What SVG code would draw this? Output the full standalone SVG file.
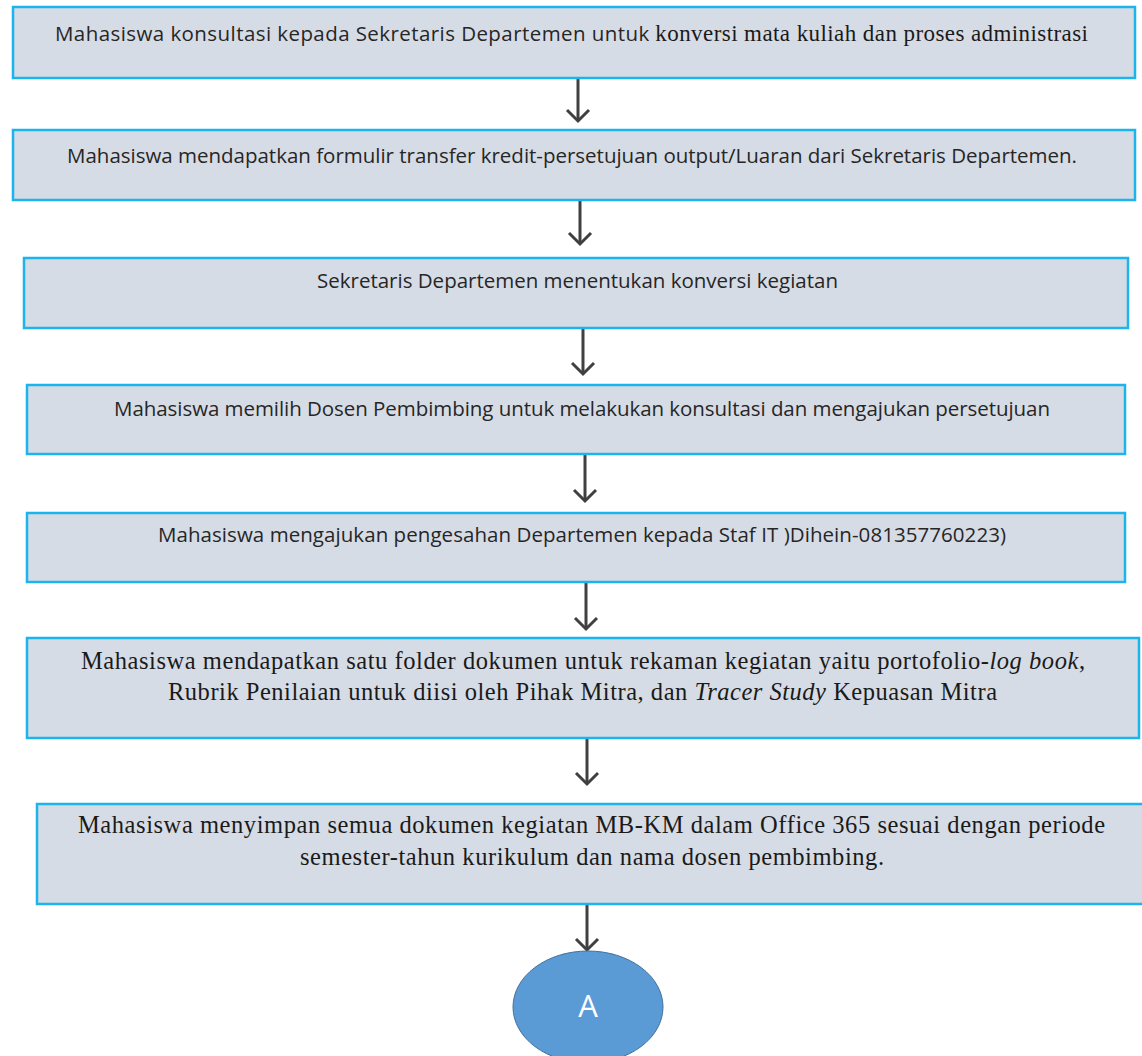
<svg xmlns="http://www.w3.org/2000/svg" width="1142" height="1056" viewBox="0 0 1142 1056">
<style>
.box{fill:#d6dce5;stroke:#1cb4ec;stroke-width:2.5}
.sans{font-family:"Open Sans","Noto Sans","DejaVu Sans",sans-serif;font-size:20.5px;fill:#262626}
.serif{font-family:"Liberation Serif","Times New Roman",serif;font-size:24.5px;fill:#1a1a1a}
.conn{stroke:#404040;stroke-width:3;fill:none}
</style>
<defs>
<marker id="ah" markerUnits="userSpaceOnUse" markerWidth="26" markerHeight="26" refX="13" refY="13" orient="auto" viewBox="0 0 26 26">
<path d="M2,2 L13,13 L2,24" fill="none" stroke="#404040" stroke-width="3"/>
</marker>
</defs>
<rect width="1142" height="1056" fill="#ffffff"/>
<g id="connectors">
<line class="conn" x1="578" y1="79" x2="578" y2="121" marker-end="url(#ah)"/>
<line class="conn" x1="580" y1="201" x2="580" y2="244" marker-end="url(#ah)"/>
<line class="conn" x1="583" y1="329" x2="583" y2="374" marker-end="url(#ah)"/>
<line class="conn" x1="585" y1="455" x2="585" y2="501" marker-end="url(#ah)"/>
<line class="conn" x1="586" y1="583" x2="586" y2="629" marker-end="url(#ah)"/>
<line class="conn" x1="587" y1="739" x2="587" y2="784" marker-end="url(#ah)"/>
<line class="conn" x1="587" y1="905" x2="587" y2="950" marker-end="url(#ah)"/>
</g>
<g id="node1">
<rect class="box" x="13" y="7" width="1122" height="71"/>
<text x="55" y="41" textLength="1033" lengthAdjust="spacing"><tspan class="sans">Mahasiswa konsultasi kepada Sekretaris Departemen untuk </tspan><tspan class="serif" style="font-size:23px">konversi mata kuliah dan proses administrasi</tspan></text>
</g>
<g id="node2">
<rect class="box" x="13" y="130" width="1122" height="70"/>
<text class="sans" x="67" y="163" textLength="1010" lengthAdjust="spacing">Mahasiswa mendapatkan formulir transfer kredit-persetujuan output/Luaran dari Sekretaris Departemen.</text>
</g>
<g id="node3">
<rect class="box" x="24" y="258" width="1104" height="70"/>
<text class="sans" x="317" y="288" textLength="521" lengthAdjust="spacing">Sekretaris Departemen menentukan konversi kegiatan</text>
</g>
<g id="node4">
<rect class="box" x="27" y="385" width="1098" height="69"/>
<text class="sans" x="114" y="416" textLength="936" lengthAdjust="spacing">Mahasiswa memilih Dosen Pembimbing untuk melakukan konsultasi dan mengajukan persetujuan</text>
</g>
<g id="node5">
<rect class="box" x="27" y="513" width="1098" height="69"/>
<text class="sans" x="158" y="542" textLength="848" lengthAdjust="spacing">Mahasiswa mengajukan pengesahan Departemen kepada Staf IT )Dihein-081357760223)</text>
</g>
<g id="node6">
<rect class="box" x="27" y="638" width="1112" height="100"/>
<text class="serif" x="81" y="669" textLength="1004" lengthAdjust="spacing">Mahasiswa mendapatkan satu folder dokumen untuk rekaman kegiatan yaitu portofolio-<tspan font-style="italic">log book</tspan>,</text>
<text class="serif" x="168" y="700" textLength="829" lengthAdjust="spacing">Rubrik Penilaian untuk diisi oleh Pihak Mitra, dan <tspan font-style="italic">Tracer Study</tspan> Kepuasan Mitra</text>
</g>
<g id="node7">
<rect class="box" x="37" y="804" width="1110" height="100"/>
<text class="serif" x="78" y="833" textLength="1027" lengthAdjust="spacing">Mahasiswa menyimpan semua dokumen kegiatan MB-KM dalam Office 365 sesuai dengan periode</text>
<text class="serif" x="300" y="865" textLength="584" lengthAdjust="spacing">semester-tahun kurikulum dan nama dosen pembimbing.</text>
</g>
<g id="nodeA">
<ellipse cx="588" cy="1007" rx="75" ry="56" fill="#5b9bd5" stroke="#41719c" stroke-width="1"/>
<text x="588" y="1017" text-anchor="middle" font-family="Open Sans, Noto Sans, sans-serif" font-size="31" fill="#ffffff">A</text>
</g>
</svg>
